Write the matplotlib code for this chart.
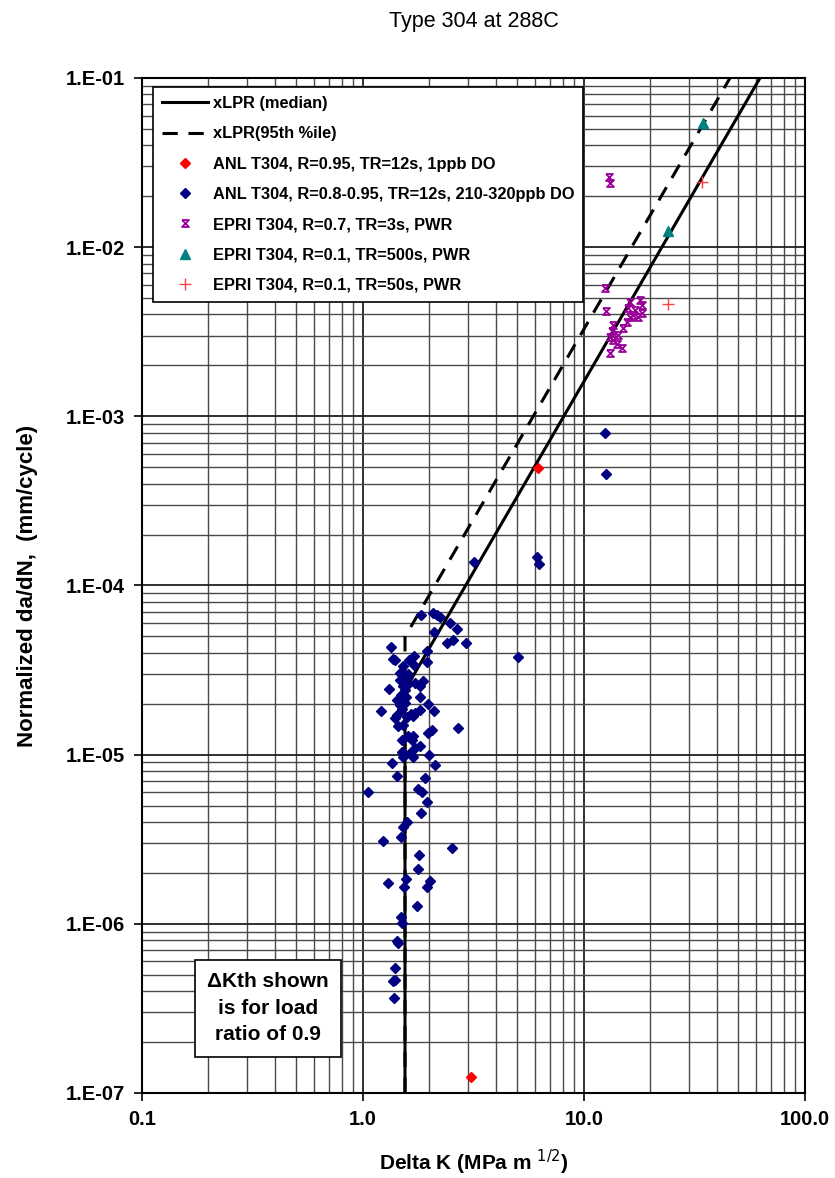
import matplotlib
matplotlib.use("Agg")
import matplotlib.pyplot as plt
from matplotlib.path import Path
from matplotlib.ticker import FixedLocator, FixedFormatter, NullFormatter, LogLocator

plt.rcParams["font.family"] = ["Liberation Sans", "DejaVu Sans"]

# xLPR curves: threshold knee then power-law segment
median_dk = [1.55, 1.55, 62.6]
median_rate = [1e-7, 2.41e-5, 1e-1]
p95_dk = [1.55, 1.55, 45.8]
p95_rate = [1e-7, 4.97e-5, 1e-1]

# ANL T304, R=0.95, 1 ppb DO
anl_low_dk = [6.17, 3.08]
anl_low_rate = [4.97e-4, 1.25e-7]

# ANL T304, R=0.8-0.95, 210-320 ppb DO
anl_dk = [1.830, 2.080, 2.169, 2.231, 2.476, 2.655, 2.096, 2.392, 2.546, 2.925,
          1.339, 1.954, 1.363, 1.395, 1.707, 1.620, 1.954, 1.522, 1.701, 1.497,
          1.576, 1.470, 1.875, 1.720, 1.811, 1.522, 1.586, 1.315, 1.486, 1.565,
          1.811, 1.549, 1.470, 1.975, 1.202, 1.811, 1.720, 1.649, 2.096, 1.420,
          1.395, 1.576, 1.689, 1.522, 1.444, 2.046, 1.975, 2.700, 1.603, 1.689,
          1.497, 1.661, 1.811, 1.720, 1.632, 1.497, 1.522, 1.678, 1.995, 1.357,
          2.117, 1.420, 1.908, 1.057, 1.779, 1.844, 1.942, 1.830, 1.576, 1.522,
          1.486, 1.228, 2.536, 1.792, 1.774, 1.302, 1.565, 1.533, 2.010, 1.942,
          1.761, 1.486, 1.497, 1.420, 1.444, 1.395, 1.371, 1.395, 1.381, 5.042,
          3.189, 6.109, 6.257, 12.45, 12.58, 1.47, 1.55, 1.43, 1.60, 1.51]
anl_rate = [6.70e-5, 6.92e-5, 6.70e-5, 6.50e-5, 5.99e-5, 5.54e-5, 5.30e-5, 4.56e-5, 4.77e-5, 4.60e-5,
            4.35e-5, 4.11e-5, 3.67e-5, 3.63e-5, 3.85e-5, 3.63e-5, 3.55e-5, 3.32e-5, 3.39e-5, 2.96e-5,
            2.89e-5, 2.77e-5, 2.74e-5, 2.65e-5, 2.53e-5, 2.53e-5, 2.59e-5, 2.44e-5, 2.26e-5, 2.20e-5,
            2.19e-5, 2.02e-5, 1.97e-5, 1.99e-5, 1.82e-5, 1.84e-5, 1.77e-5, 1.74e-5, 1.80e-5, 1.72e-5,
            1.64e-5, 1.68e-5, 1.70e-5, 1.50e-5, 1.47e-5, 1.40e-5, 1.34e-5, 1.43e-5, 1.28e-5, 1.28e-5,
            1.22e-5, 1.22e-5, 1.13e-5, 1.09e-5, 1.02e-5, 1.04e-5, 9.66e-6, 9.74e-6, 9.97e-6, 8.98e-6,
            8.70e-6, 7.52e-6, 7.26e-6, 6.05e-6, 6.25e-6, 6.05e-6, 5.28e-6, 4.51e-6, 3.97e-6, 3.73e-6,
            3.28e-6, 3.09e-6, 2.80e-6, 2.56e-6, 2.11e-6, 1.75e-6, 1.84e-6, 1.66e-6, 1.78e-6, 1.66e-6,
            1.28e-6, 1.10e-6, 1.01e-6, 7.93e-7, 7.75e-7, 5.47e-7, 4.56e-7, 4.67e-7, 3.64e-7, 3.80e-5,
            1.385e-4, 1.47e-4, 1.34e-4, 7.95e-4, 4.57e-4, 3.05e-5, 2.40e-5, 2.10e-5, 3.00e-5, 1.85e-5]

# EPRI T304, R=0.7, TR=3s
epri3_dk = [13.0, 13.1, 12.45, 12.58, 16.15, 17.92, 18.24, 17.01, 15.87, 16.72, 17.61,
            18.24, 16.15, 15.61, 15.06, 13.57, 13.35, 13.11, 13.57, 14.06, 14.81, 13.11, 14.29]
epri3_rate = [2.60e-2, 2.38e-2, 5.76e-3, 4.20e-3, 4.76e-3, 4.87e-3, 4.55e-3, 4.25e-3, 4.35e-3, 3.97e-3, 3.88e-3,
              4.10e-3, 3.85e-3, 3.63e-3, 3.32e-3, 3.47e-3, 3.21e-3, 2.96e-3, 2.83e-3, 2.68e-3, 2.53e-3, 2.38e-3, 3.03e-3]

# EPRI T304, R=0.1, TR=500s
epri500_dk = [34.66, 24.07]
epri500_rate = [5.40e-2, 1.25e-2]

# EPRI T304, R=0.1, TR=50s
epri50_dk = [34.09, 24.07]
epri50_rate = [2.44e-2, 4.60e-3]

x_ticks = [0.1, 1.0, 10.0, 100.0]
x_labels = ["0.1", "1.0", "10.0", "100.0"]
y_ticks = [1e-7, 1e-6, 1e-5, 1e-4, 1e-3, 1e-2, 1e-1]
y_labels = ["1.E-07", "1.E-06", "1.E-05", "1.E-04", "1.E-03", "1.E-02", "1.E-01"]

# hourglass-style "x" marker
hourglass = Path([(-1, 1), (1, 1), (-1, -1), (1, -1), (-1, 1)],
                 [Path.MOVETO, Path.LINETO, Path.LINETO, Path.LINETO, Path.LINETO])

fig = plt.figure(figsize=(8.35, 11.78), dpi=100)
ax = fig.add_axes([0.170, 0.0722, 0.794, 0.8616])
ax.set_xscale("log")
ax.set_yscale("log")
ax.set_xlim(0.1, 100)
ax.set_ylim(1e-7, 1e-1)

ax.xaxis.set_major_locator(FixedLocator(x_ticks))
ax.xaxis.set_major_formatter(FixedFormatter(x_labels))
ax.yaxis.set_major_locator(FixedLocator(y_ticks))
ax.yaxis.set_major_formatter(FixedFormatter(y_labels))
ax.xaxis.set_minor_locator(LogLocator(base=10, subs=range(2, 10)))
ax.yaxis.set_minor_locator(LogLocator(base=10, subs=range(2, 10)))
ax.xaxis.set_minor_formatter(NullFormatter())
ax.yaxis.set_minor_formatter(NullFormatter())

ax.grid(which="major", color="#202020", lw=1.3)
ax.grid(which="minor", color="#4a4a4a", lw=1.0)
ax.set_axisbelow(True)
ax.tick_params(which="major", direction="out", length=6, width=1.2, labelsize=14.5, pad=6)
ax.tick_params(which="minor", length=0)
for lab in ax.get_xticklabels() + ax.get_yticklabels():
    lab.set_fontweight("bold")
for s in ax.spines.values():
    s.set_linewidth(1.5)

ax.plot(median_dk, median_rate, color="black", lw=2.2, label="xLPR (median)", zorder=3)
ax.plot(p95_dk, p95_rate, color="black", lw=2.2, ls=(0, (5, 3.5)), label="xLPR(95th %ile)", zorder=3)

ax.plot(anl_low_dk, anl_low_rate, ls="none", marker="D", ms=5, color="#ff0000",
        mec="#ff0000", label="ANL T304, R=0.95, TR=12s, 1ppb DO", zorder=4)
ax.plot(anl_dk, anl_rate, ls="none", marker="D", ms=5, color="#000080",
        mec="#000080", label="ANL T304, R=0.8-0.95, TR=12s, 210-320ppb DO", zorder=4)
ax.plot(epri3_dk, epri3_rate, ls="none", marker=hourglass, ms=5, mfc="none",
        mec="#990099", mew=1.3, label="EPRI T304, R=0.7, TR=3s, PWR", zorder=4)
ax.plot(epri500_dk, epri500_rate, ls="none", marker="^", ms=7, color="#008080",
        label="EPRI T304, R=0.1, TR=500s, PWR", zorder=4)
ax.plot(epri50_dk, epri50_rate, ls="none", marker="+", ms=8, mew=1.0, color="#ff4040",
        label="EPRI T304, R=0.1, TR=50s, PWR", zorder=4)

leg = ax.legend(loc="upper left", bbox_to_anchor=(0.0166, 0.991), borderaxespad=0,
                prop={"weight": "bold", "size": 11.8}, frameon=True,
                fancybox=False, edgecolor="black", framealpha=1, handlelength=2.8,
                labelspacing=0.93, borderpad=0.55, handletextpad=0.3)
leg.get_frame().set_linewidth(1.2)

ax.text(268 / 835, 1 - 1008 / 1178, "\u0394Kth shown\nis for load\nratio of 0.9",
        transform=fig.transFigure, ha="center", va="center", fontsize=15,
        fontweight="bold", linespacing=1.5, zorder=5,
        bbox=dict(boxstyle="square,pad=0.6", fc="white", ec="black", lw=1.2))

fig.text(474 / 835, 1 - 22 / 1178, "Type 304 at 288C", ha="center", va="center", fontsize=15.5)
ax.set_xlabel("Delta K (MPa m $^{1/2}$)", fontsize=15, fontweight="bold", labelpad=14)
ax.set_ylabel("Normalized da/dN,  (mm/cycle)", fontsize=16, fontweight="bold", labelpad=20)

fig.savefig("out.png", dpi=100)
